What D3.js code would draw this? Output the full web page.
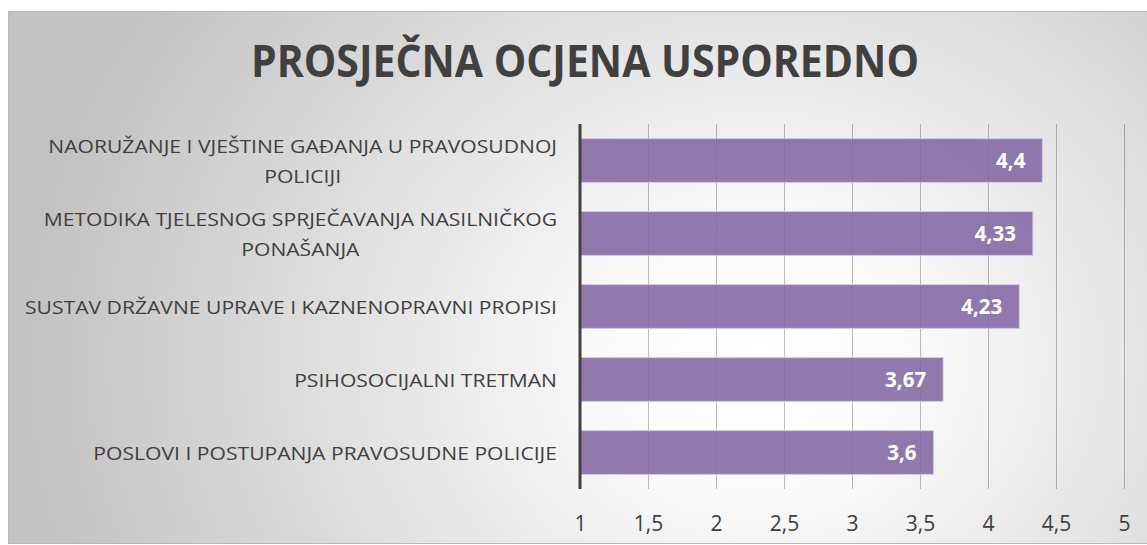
<!DOCTYPE html>
<html>
<head>
<meta charset="utf-8">
<script src="https://cdn.jsdelivr.net/npm/d3@7"></script>
<style>
  html, body { margin: 0; padding: 0; background: #fff; }
  svg { display: block; }
</style>
</head>
<body>
<div id="chart"></div>
<script>
const title = "PROSJEČNA OCJENA USPOREDNO";
// line breaks as in the picture
const categories = [
    "NAORUŽANJE I VJEŠTINE GAĐANJA U PRAVOSUDNOJ\nPOLICIJI",
    "METODIKA TJELESNOG SPRJEČAVANJA NASILNIČKOG\nPONAŠANJA",
    "SUSTAV DRŽAVNE UPRAVE I KAZNENOPRAVNI PROPISI",
    "PSIHOSOCIJALNI TRETMAN",
    "POSLOVI I POSTUPANJA PRAVOSUDNE POLICIJE"
];
const values = [4.4, 4.33, 4.23, 3.67, 3.6];
const xTicks = [1, 1.5, 2, 2.5, 3, 3.5, 4, 4.5, 5];

const width = 1147, height = 545;
const svg = d3.select("#chart").append("svg")
    .attr("width", width)
    .attr("height", height);

// background gradient
const defs = svg.append("defs");
const grad = defs.append("radialGradient")
    .attr("id", "bg")
    .attr("gradientUnits", "userSpaceOnUse")
    .attr("cx", 760).attr("cy", 360).attr("r", 640)
    .attr("gradientTransform", "translate(760,360) scale(1.15,1) translate(-760,-360)");
grad.append("stop").attr("offset", "0").attr("stop-color", "#ffffff");
grad.append("stop").attr("offset", "0.2").attr("stop-color", "#fbfbfb");
grad.append("stop").attr("offset", "1").attr("stop-color", "#c2c2c2");

svg.append("rect")
    .attr("x", 8.5).attr("y", 11.5)
    .attr("width", 1140).attr("height", 532)
    .attr("fill", "url(#bg)")
    .attr("stroke", "#b8b8b8");

const x = d3.scaleLinear().domain([1, 5]).range([580, 1124]);
const y = d3.scaleBand().domain(categories).range([124, 489])
    .paddingInner(0.4).paddingOuter(0.2);

// title
const t = svg.append("text")
    .attr("x", 585).attr("y", 77)
    .attr("text-anchor", "middle")
    .attr("font-family", "Open Sans")
    .attr("font-weight", "bold")
    .attr("font-size", 45)
    .attr("fill", "#404040")
    .text(title);
if (t.node().getComputedTextLength() > 668) {
    t.attr("textLength", 668).attr("lengthAdjust", "spacingAndGlyphs");
}

// gridlines
svg.append("g")
    .selectAll("line")
    .data(xTicks.slice(1))
    .join("line")
    .attr("x1", d => Math.round(x(d)) + 0.5)
    .attr("x2", d => Math.round(x(d)) + 0.5)
    .attr("y1", 124).attr("y2", 489)
    .attr("stroke", "#000")
    .attr("stroke-opacity", 0.25);

// bars
svg.append("g")
    .selectAll("rect")
    .data(values)
    .join("rect")
    .attr("x", x(1))
    .attr("y", (d, i) => y(categories[i]))
    .attr("width", d => x(d) - x(1))
    .attr("height", y.bandwidth())
    .attr("fill", "#8064a2")
    .attr("fill-opacity", 0.86)
    .attr("stroke", "#d3c8e0")
    .attr("stroke-width", 1);

// value labels
svg.append("g")
    .selectAll("text")
    .data(values)
    .join("text")
    .attr("x", d => x(d) - 17)
    .attr("y", (d, i) => y(categories[i]) + y.bandwidth() / 2 + 7.5)
    .attr("text-anchor", "end")
    .attr("font-family", "Open Sans")
    .attr("font-weight", "bold")
    .attr("font-size", 20.5)
    .attr("fill", "#fff")
    .text(d => String(d).replace(".", ","));

// axis line at 1
svg.append("line")
    .attr("x1", x(1)).attr("x2", x(1))
    .attr("y1", 124).attr("y2", 489)
    .attr("stroke", "#404040")
    .attr("stroke-width", 3);

// x axis labels
const xAxis = d3.axisBottom(x)
    .tickValues(xTicks)
    .tickSize(0)
    .tickFormat(d => String(d).replace(".", ","));
const ax = svg.append("g")
    .attr("transform", "translate(0,508)")
    .call(xAxis);
ax.select(".domain").remove();
ax.selectAll("text")
    .attr("font-family", "Open Sans")
    .attr("font-size", 21)
    .attr("fill", "#404040")
    .attr("dy", "0.95em");

// category labels, centred lines in a right-aligned block
const labelRight = 557, lineH = 30;
const catG = svg.append("g")
    .attr("font-family", "Open Sans")
    .attr("font-size", 19)
    .attr("fill", "#404040");

// measure once to fit the widest line
const probe = catG.append("text").text(categories[2]);
const k = 532 / probe.node().getComputedTextLength();
probe.remove();

categories.forEach((c, i) => {
    const lines = c.split("\n");
    const cy = y(c) + y.bandwidth() / 2;
    const txt = catG.append("text");
    const widths = lines.map(l => {
        const p = catG.append("text").text(l);
        const w = p.node().getComputedTextLength() * k;
        p.remove();
        return w;
    });
    const blockW = d3.max(widths);
    const cx = labelRight - blockW / 2;
    const top = cy - (lines.length - 1) * lineH / 2 + 7;
    lines.forEach((l, j) => {
        txt.append("tspan")
            .attr("x", cx)
            .attr("y", top + j * lineH)
            .attr("text-anchor", "middle")
            .attr("textLength", widths[j])
            .attr("lengthAdjust", "spacingAndGlyphs")
            .text(l);
    });
});
</script>
</body>
</html>
